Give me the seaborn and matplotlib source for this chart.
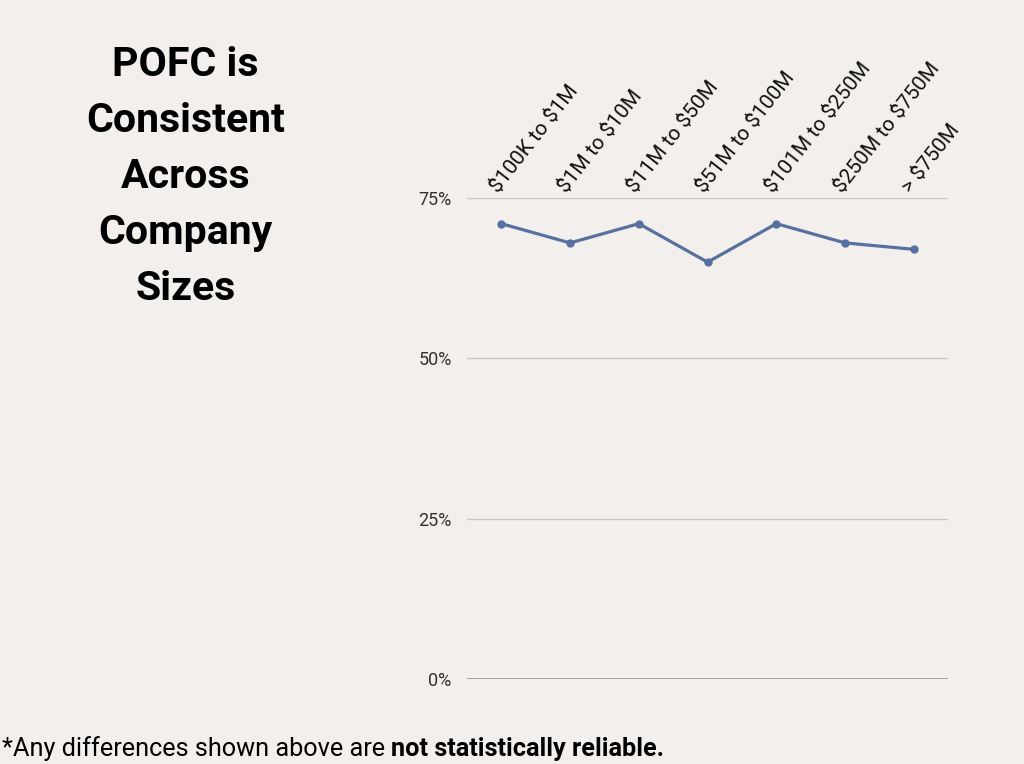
import pandas as pd
import matplotlib.pyplot as plt
import seaborn as sns

# Dữ liệu
sizes = ['$100K to $1M', '$1M to $10M', '$11M to $50M', '$51M to $100M',
         '$101M to $250M', '$250M to $750M', '> $750M']
pofc = [71, 68, 71, 65, 71, 68, 67]
yticks = [0, 25, 50, 75]
ytick_labels = ['0%', '25%', '50%', '75%']

df = pd.DataFrame({'size': sizes, 'pofc': pofc})

bg = '#F2EFEC'
sns.set_style('white')
plt.rcParams['font.family'] = ['Roboto', 'DejaVu Sans']
plt.rcParams['text.parse_math'] = False

fig = plt.figure(figsize=(10.24, 7.64), dpi=100, facecolor=bg)
ax = fig.add_axes([0.456, 0.1113, 0.470, 0.6295], facecolor=bg)

sns.lineplot(x='size', y='pofc', data=df, sort=False, color='#56709F',
             linewidth=2.3, marker='o', markersize=6, markeredgewidth=0, ax=ax)

ax.set_xlim(-0.5, len(sizes) - 0.5)
ax.set_ylim(0, 75)
ax.set_yticks(yticks)
ax.set_yticklabels(ytick_labels, fontsize=13, color='#333333')
ax.yaxis.grid(True, color='#CBC8C5', linewidth=1)
ax.axhline(0, color='#9A9794', linewidth=1.2, zorder=1)
ax.tick_params(axis='y', length=0, pad=11)
for s in ax.spines.values():
    s.set_visible(False)

ax.xaxis.tick_top()
ax.set_xticks(range(len(sizes)))
ax.set_xticklabels(sizes, rotation=52, ha='left', va='bottom',
                   rotation_mode='anchor', fontsize=15, color='#111111')
ax.tick_params(axis='x', length=0, pad=1)
ax.set_xlabel('')
ax.set_ylabel('')

fig.text(0.181, 0.94, 'POFC is\nConsistent\nAcross\nCompany\nSizes',
         ha='center', va='top', fontsize=29.5, fontweight='bold',
         linespacing=1.6, color='black')

t1 = fig.text(0.002, 0.01, '*Any differences shown above are ', fontsize=18.2,
              ha='left', va='baseline', color='black')
fig.canvas.draw()
bb = t1.get_window_extent()
fig.text(bb.x1 / fig.bbox.width, 0.01, 'not statistically reliable.', fontsize=18.2,
         fontweight='bold', ha='left', va='baseline', color='black')

plt.savefig('out.png', dpi=100, facecolor=bg)
